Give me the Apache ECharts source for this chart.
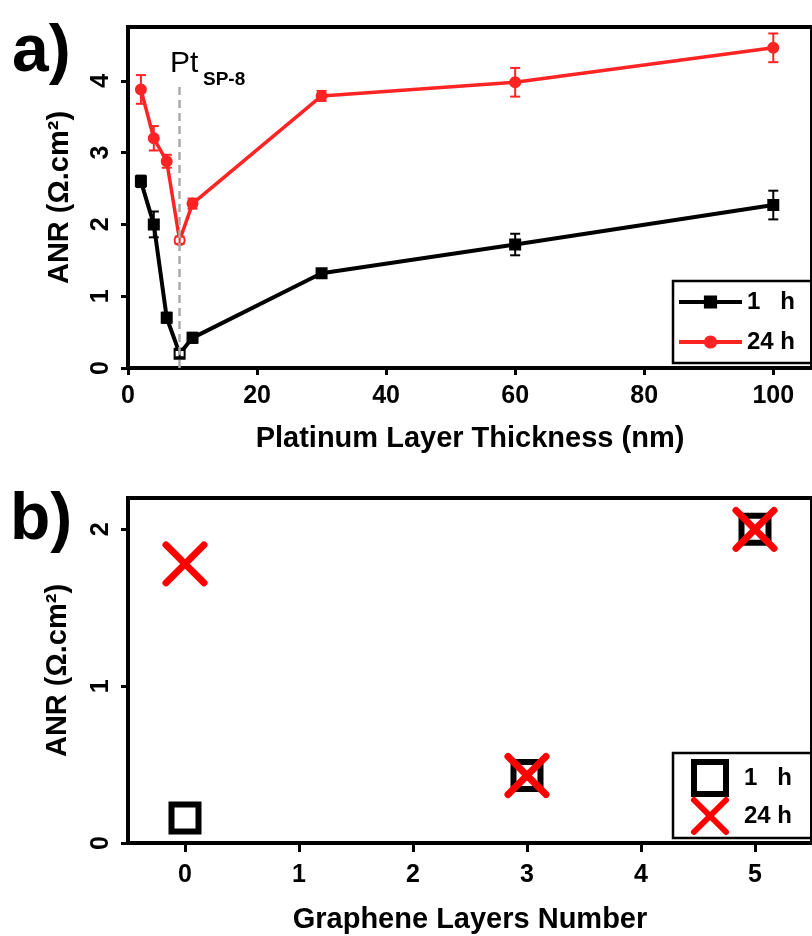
<!DOCTYPE html>
<html>
<head>
<meta charset="utf-8">
<script src="https://cdn.jsdelivr.net/npm/echarts@6/dist/echarts.min.js"></script>
<style>
  html, body { margin: 0; padding: 0; background: #fff; }
  #main { width: 812px; height: 936px; }
</style>
</head>
<body>
<div id="main"></div>
<script>
// panel a) 数据
var thickness = [2, 4, 6, 8, 10, 30, 60, 100];
var anr1h = [2.6, 2.0, 0.7, 0.2, 0.42, 1.32, 1.72, 2.27];
var err1h = [0.08, 0.18, 0.07, 0.05, 0.07, 0.05, 0.15, 0.2];
var anr24h = [3.88, 3.2, 2.88, 1.78, 2.29, 3.79, 3.98, 4.46];
var err24h = [0.2, 0.17, 0.09, 0.05, 0.07, 0.07, 0.2, 0.2];
var spX = 8; // Pt SP-8 样品
var xTicksA = [0, 20, 40, 60, 80, 100];
var yTicksA = [0, 1, 2, 3, 4];

// panel b) 数据
var layers = [0, 3, 5];
var anrB1h = [0.16, 0.43, 2.0];
var anrB24h = [1.78, 0.43, 2.0];
var xTicksB = [0, 1, 2, 3, 4, 5];
var yTicksB = [0, 1, 2];

var FONT = 'Liberation Sans, Arial, sans-serif';
var RED = '#ff2424';

var myChart = echarts.init(document.getElementById('main'));

function pts(xs, ys, openSymbol) {
    return xs.map(function (x, i) {
        var d = {value: [x, ys[i]]};
        if (x === spX) {
            d.symbol = openSymbol;
        }
        return d;
    });
}
function errPts(xs, ys, es) {
    return xs.map(function (x, i) { return [x, ys[i], es[i]]; });
}
// 误差棒
function errorBar(color) {
    return function (params, api) {
        var x = api.value(0), y = api.value(1), e = api.value(2);
        var lo = api.coord([x, y - e]);
        var hi = api.coord([x, y + e]);
        var cap = 5;
        var st = {stroke: color, lineWidth: 2};
        return {
            type: 'group',
            children: [
                {type: 'line', shape: {x1: lo[0], y1: lo[1], x2: hi[0], y2: hi[1]}, style: st},
                {type: 'line', shape: {x1: lo[0] - cap, y1: lo[1], x2: lo[0] + cap, y2: lo[1]}, style: st},
                {type: 'line', shape: {x1: hi[0] - cap, y1: hi[1], x2: hi[0] + cap, y2: hi[1]}, style: st}
            ]
        };
    };
}

var axisLabelStyle = {fontFamily: FONT, fontWeight: 'bold', fontSize: 25, color: '#000'};
var axisNameStyle = {fontFamily: FONT, fontWeight: 'bold', fontSize: 29, color: '#000'};
var axisLineStyle = {show: true, onZero: false, lineStyle: {color: '#000', width: 4}};

var xPath = 'path://M0,0L10,10M10,0L0,10';
var sqPath = 'path://M0,0H10V10H0Z';

option = {
    backgroundColor: '#fff',
    animation: false,
    grid: [
        {left: 128, top: 27, width: 686, height: 341, show: true, borderColor: '#000', borderWidth: 4},
        {left: 128, top: 498, width: 696, height: 345, show: true, borderColor: '#000', borderWidth: 4}
    ],
    xAxis: [
        {
            gridIndex: 0, type: 'value', min: 0, max: 106,
            name: 'Platinum Layer Thickness (nm)', nameLocation: 'middle', nameGap: 56,
            nameTextStyle: axisNameStyle,
            axisLine: axisLineStyle,
            axisTick: {show: true, length: 7, lineStyle: {color: '#000', width: 3}, customValues: xTicksA},
            axisLabel: Object.assign({margin: 16, customValues: xTicksA}, axisLabelStyle),
            splitLine: {show: false}
        },
        {
            gridIndex: 1, type: 'value', min: -0.5, max: 5.5,
            name: 'Graphene Layers Number', nameLocation: 'middle', nameGap: 62,
            nameTextStyle: axisNameStyle,
            axisLine: axisLineStyle,
            axisTick: {show: true, length: 9, lineStyle: {color: '#000', width: 3}, customValues: xTicksB},
            axisLabel: Object.assign({margin: 20, customValues: xTicksB}, axisLabelStyle),
            splitLine: {show: false}
        }
    ],
    yAxis: [
        {
            gridIndex: 0, type: 'value', min: 0, max: 4.75,
            name: 'ANR (Ω.cm²)', nameLocation: 'middle', nameGap: 54,
            nameTextStyle: axisNameStyle,
            axisLine: axisLineStyle,
            axisTick: {show: true, length: 7, lineStyle: {color: '#000', width: 3}, customValues: yTicksA},
            axisLabel: Object.assign({margin: 14, rotate: 90, customValues: yTicksA}, axisLabelStyle),
            splitLine: {show: false}
        },
        {
            gridIndex: 1, type: 'value', min: 0, max: 2.2,
            name: 'ANR (Ω.cm²)', nameLocation: 'middle', nameGap: 56,
            nameTextStyle: axisNameStyle,
            axisLine: axisLineStyle,
            axisTick: {show: true, length: 7, lineStyle: {color: '#000', width: 3}, customValues: yTicksB},
            axisLabel: Object.assign({margin: 14, rotate: 90, customValues: yTicksB}, axisLabelStyle),
            splitLine: {show: false}
        }
    ],
    legend: [
        {
            left: 673, top: 281, orient: 'vertical',
            padding: [9, 40, 9, 4], itemGap: 16, itemWidth: 63, itemHeight: 14,
            borderColor: '#000', borderWidth: 2.5,
            textStyle: {fontFamily: FONT, fontWeight: 'bold', fontSize: 24, color: '#000'},
            data: [
                {name: '1   h', lineStyle: {width: 4}},
                {name: '24 h', lineStyle: {width: 4}}
            ]
        },
        {
            left: 673, top: 753, orient: 'vertical',
            padding: [6, 40, 3, 18], itemGap: 0, itemWidth: 40, itemHeight: 32,
            borderColor: '#000', borderWidth: 2.5,
            textStyle: {fontFamily: FONT, fontWeight: 'bold', fontSize: 24, color: '#000', padding: [0, 0, 0, 9]},
            data: [
                {name: '1 h ', icon: sqPath, itemStyle: {borderWidth: 6, borderColor: '#000', color: '#fff'}},
                {name: '24 h ', icon: xPath, itemStyle: {borderWidth: 6, borderColor: '#ff0000', borderCap: 'round'}}
            ],
            formatter: function (n) { return n === '1 h ' ? '1   h' : '24 h'; }
        }
    ],
    graphic: [
        {type: 'text', left: 12, top: 20, style: {text: 'a)', font: 'bold 66px ' + FONT, fill: '#000'}},
        {type: 'text', left: 10, top: 488, style: {text: 'b)', font: 'bold 66px ' + FONT, fill: '#000'}},
        {type: 'text', left: 170, top: 49, style: {text: 'Pt', font: '30px ' + FONT, fill: '#000'}},
        {type: 'text', left: 203, top: 70, style: {text: 'SP-8', font: 'bold 19px ' + FONT, fill: '#000'}}
    ],
    series: [
        {
            name: '1   h', type: 'line', xAxisIndex: 0, yAxisIndex: 0,
            data: pts(thickness, anr1h, 'emptyRect'),
            symbol: 'rect', symbolSize: 10,
            lineStyle: {color: '#000', width: 4},
            itemStyle: {color: '#000', borderColor: '#000', borderWidth: 2},
            z: 3
        },
        {
            type: 'custom', xAxisIndex: 0, yAxisIndex: 0,
            data: errPts(thickness, anr1h, err1h),
            renderItem: errorBar('#000'), z: 4
        },
        {
            name: '24 h', type: 'line', xAxisIndex: 0, yAxisIndex: 0,
            data: pts(thickness, anr24h, 'emptyCircle'),
            symbol: 'circle', symbolSize: 10,
            lineStyle: {color: RED, width: 3.5},
            itemStyle: {color: RED, borderColor: RED, borderWidth: 2},
            z: 3,
            markLine: {
                silent: true, symbol: 'none', label: {show: false},
                lineStyle: {color: '#aaa', type: [8, 5], width: 2.5},
                data: [[{coord: [spX, 0]}, {coord: [spX, 3.97]}]],
                z: 6
            }
        },
        {
            type: 'custom', xAxisIndex: 0, yAxisIndex: 0,
            data: errPts(thickness, anr24h, err24h),
            renderItem: errorBar(RED), z: 4
        },
        {
            name: '1 h ', type: 'scatter', xAxisIndex: 1, yAxisIndex: 1,
            data: layers.map(function (x, i) { return [x, anrB1h[i]]; }),
            symbol: sqPath, symbolSize: 27,
            itemStyle: {color: '#fff', borderColor: '#000', borderWidth: 6, opacity: 1},
            z: 3
        },
        {
            name: '24 h ', type: 'scatter', xAxisIndex: 1, yAxisIndex: 1,
            data: layers.map(function (x, i) { return [x, anrB24h[i]]; }),
            symbol: xPath, symbolSize: 38,
            itemStyle: {color: '#ff0000', borderColor: '#ff0000', borderWidth: 7, borderCap: 'round', opacity: 1},
            z: 4
        }
    ]
};

myChart.setOption(option);
</script>
</body>
</html>
